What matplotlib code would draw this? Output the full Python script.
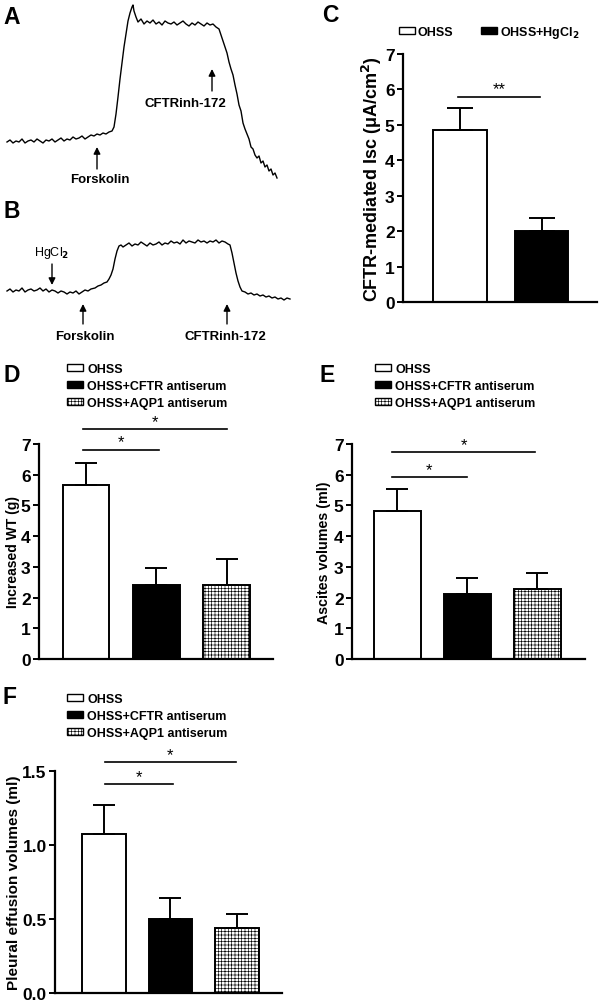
import matplotlib as mpl
mpl.use('Agg')
import matplotlib.pyplot as plt
from matplotlib.patches import Patch

plt.rcParams['font.family'] = ['Liberation Sans', 'DejaVu Sans']
plt.rcParams['font.weight'] = 'bold'
plt.rcParams['hatch.linewidth'] = 0.45

# ---- traces (A, B): time in px-like units, level = current in arbitrary units
trace_a_t = list(range(7, 113, 3)) + [114, 116, 118, 120, 122, 124, 126, 128, 130, 132, 133, 134, 136] \
    + list(range(138, 217, 3)) \
    + [219, 221, 223, 225, 227, 229, 231, 233, 235, 237, 239, 241, 243, 245, 247, 249, 251, 253,
       255, 257, 259, 261, 263, 265, 267, 269, 271, 273, 275, 277]
trace_a_i = [47, 49, 46, 48, 47, 50, 46, 48, 49, 47, 50, 48, 46, 49, 48, 50, 47, 49, 51, 48,
             50, 49, 52, 50, 51, 53, 50, 52, 54, 53, 55, 54, 56, 55, 57, 58] \
    + [62, 75, 92, 110, 126, 142, 155, 168, 176, 182, 184, 178, 172] \
    + [167, 170, 165, 168, 166, 169, 165, 167, 164, 168, 166, 165, 167, 164, 166, 168, 165, 163,
       166, 164, 167, 165, 163, 166, 164, 165, 162] \
    + [160, 154, 148, 142, 136, 127, 120, 114, 104, 95, 84, 78, 66, 60, 55, 50, 42, 40,
       34, 31, 33, 26, 28, 22, 24, 18, 20, 14, 16, 11]

trace_b_t = list(range(7, 93, 3)) + [95, 98, 101, 104, 107, 109, 111, 113, 115, 117, 119, 121, 123] \
    + list(range(126, 229, 3)) \
    + [230, 232, 234, 236, 238, 240, 242, 245, 248, 251, 254, 257, 260, 263, 266, 269, 272, 275,
       278, 281, 284, 287, 290]
trace_b_i = [58, 60, 57, 59, 58, 61, 57, 59, 60, 58, 59, 61, 58, 60, 57, 59, 58, 56, 58, 57,
             55, 57, 56, 58, 55, 57, 59, 58, 60] \
    + [61, 63, 64, 66, 67, 70, 74, 80, 90, 98, 103, 104, 102] \
    + [104, 106, 103, 105, 104, 107, 105, 103, 106, 104, 105, 107, 104, 106, 105, 108, 106, 107,
       105, 109, 106, 108, 107, 106, 109, 107, 108, 106, 108, 107, 109, 106, 108, 107, 105] \
    + [104, 96, 86, 76, 68, 62, 58, 57, 55, 56, 54, 55, 53, 54, 52, 53, 51, 52, 50, 51, 49, 51, 50]

# ---- bar data
groups_c = ['OHSS', 'OHSS+HgCl$_\\mathbf{2}$']
isc_mean = [4.85, 2.0]
isc_sem = [0.63, 0.37]

groups3 = ['OHSS', 'OHSS+CFTR antiserum', 'OHSS+AQP1 antiserum']
wt_mean = [5.65, 2.42, 2.42]
wt_sem = [0.73, 0.53, 0.84]
ascites_mean = [4.83, 2.13, 2.27]
ascites_sem = [0.70, 0.5, 0.54]
pleural_mean = [1.07, 0.50, 0.44]
pleural_sem = [0.20, 0.14, 0.095]

W, H = 600, 1004
fig = plt.figure(figsize=(6, 10.04), dpi=100)


def px_axes(x0, y0, x1, y1):
    return fig.add_axes([x0 / W, 1 - y1 / H, (x1 - x0) / W, (y1 - y0) / H])


def arrow(ax, x, y_tail, y_head):
    ax.annotate('', xy=(x, y_head), xytext=(x, y_tail),
                arrowprops=dict(arrowstyle='-|>', lw=1.0, color='black', mutation_scale=10,
                                shrinkA=0, shrinkB=0))


lab = dict(fontsize=9.5, fontweight='bold', ha='center', va='center')

# A
axa = px_axes(0, 0, 300, 190)
axa.plot(trace_a_t, trace_a_i, color='black', lw=1.0)
axa.set_xlim(0, 300)
axa.set_ylim(0, 190)
axa.axis('off')
arrow(axa, 97, 20, 42)
axa.text(100, 10, 'Forskolin', **lab)
arrow(axa, 212, 98, 120)
axa.text(185, 86, 'CFTRinh-172', **lab)

# B
axb = px_axes(0, 190, 300, 350)
axb.plot(trace_b_t, trace_b_i, color='black', lw=1.0)
axb.set_xlim(0, 300)
axb.set_ylim(0, 160)
axb.axis('off')
arrow(axb, 52, 85, 64)
axb.text(52, 97, 'HgCl$_2$', fontsize=9, ha='center', va='center', fontweight='normal')
arrow(axb, 83, 25, 45)
axb.text(85, 13, 'Forskolin', **lab)
arrow(axb, 227, 25, 45)
axb.text(225, 13, 'CFTRinh-172', **lab)

styles = [dict(color='white', hatch=None), dict(color='black', hatch=None),
          dict(color='white', hatch='+++++')]


def bar_panel(ax, means, sems, ymax, capsize):
    for i, (m, s) in enumerate(zip(means, sems)):
        st = styles[i]
        ax.bar(i, m, width=0.66, color=st['color'], edgecolor='black', linewidth=1.4,
               hatch=st['hatch'], zorder=2)
        ax.errorbar(i, m, yerr=[[0], [s]], color='black', elinewidth=1.4, capthick=1.4,
                    capsize=capsize, zorder=3)
    ax.set_ylim(0, ymax)
    for sp in ['top', 'right']:
        ax.spines[sp].set_visible(False)
    for sp in ['left', 'bottom']:
        ax.spines[sp].set_linewidth(1.6)
    ax.set_xticks([])
    ax.tick_params(axis='y', direction='out', length=4, width=1.4, labelsize=12.5, pad=2)
    for t in ax.get_yticklabels():
        t.set_fontweight('bold')


def sig(ax, x0, x1, y, txt, dy):
    ax.plot([x0, x1], [y, y], color='black', lw=1.2, clip_on=False)
    ax.text((x0 + x1) / 2, y + dy, txt, ha='center', va='bottom', fontsize=12,
            fontweight='normal', clip_on=False)


# C
axc = px_axes(403, 55, 597, 303)
bar_panel(axc, isc_mean, isc_sem, 7, 9.5)
axc.set_xlim(-0.70, 1.68)
axc.set_yticks(range(0, 8))
axc.set_ylabel('CFTR-mediated Isc (\u03bcA/cm$^\\mathbf{2}$)', fontsize=13, fontweight='bold',
               labelpad=1)
sig(axc, -0.02, 0.98, 5.8, '**', 0.0)
hc = [Patch(facecolor='white', edgecolor='black', linewidth=1.0),
      Patch(facecolor='black', edgecolor='black', linewidth=1.0)]
fig.legend(hc, groups_c, loc='center left', bbox_to_anchor=(399 / W, 1 - 33 / H), ncol=2,
           frameon=False, handlelength=1.3, handleheight=0.5, handletextpad=0.2,
           columnspacing=2.2, borderpad=0, borderaxespad=0,
           prop=dict(weight='bold', size=9))

h3 = [Patch(facecolor='white', edgecolor='black', linewidth=1.0),
      Patch(facecolor='black', edgecolor='black', linewidth=1.0),
      Patch(facecolor='white', edgecolor='black', linewidth=1.0, hatch='+++++')]


def legend3(x, y):
    fig.legend(h3, groups3, loc='upper left', bbox_to_anchor=(x / W, 1 - y / H),
               frameon=False, handlelength=1.3, handleheight=0.5, handletextpad=0.3,
               labelspacing=0.4, borderpad=0, borderaxespad=0,
               prop=dict(weight='bold', size=9))


# D
axd = px_axes(39, 445, 273, 660)
bar_panel(axd, wt_mean, wt_sem, 7, 8)
axd.set_xlim(-0.67, 2.66)
axd.set_yticks(range(0, 8))
axd.set_ylabel('Increased WT (g)', fontsize=10, fontweight='bold', labelpad=1)
sig(axd, -0.04, 1.04, 6.82, '*', 0.0)
sig(axd, -0.04, 2.0, 7.49, '*', 0.0)
legend3(67, 364)

# E
axe = px_axes(352, 445, 585, 660)
bar_panel(axe, ascites_mean, ascites_sem, 7, 8)
axe.set_xlim(-0.65, 2.68)
axe.set_yticks(range(0, 8))
axe.set_ylabel('Ascites volumes (ml)', fontsize=10.3, fontweight='bold', labelpad=2)
sig(axe, -0.08, 0.99, 5.93, '*', 0.0)
sig(axe, -0.08, 1.97, 6.73, '*', 0.0)
legend3(375, 364)

# F
axf = px_axes(55, 771.7, 282, 994)
bar_panel(axf, pleural_mean, pleural_sem, 1.5, 8)
axf.set_xlim(-0.74, 2.68)
axf.set_yticks([0, 0.5, 1.0, 1.5])
axf.set_yticklabels(['0.0', '0.5', '1.0', '1.5'], fontweight='bold')
axf.set_ylabel('Pleural effusion volumes (ml)', fontsize=11, fontweight='bold', labelpad=1)
sig(axf, 0.015, 1.04, 1.41, '*', 0.0)
sig(axf, 0.015, 1.98, 1.56, '*', 0.0)
legend3(67, 694)

# panel letters
for letter, x, y in [('A', 12, 17), ('B', 12, 212), ('C', 330, 15), ('D', 12, 375),
                     ('E', 327, 375), ('F', 10, 698)]:
    fig.text(x / W, 1 - y / H, letter, fontsize=16.5, fontweight='bold', ha='center', va='center')

fig.savefig('out.png', dpi=100)
